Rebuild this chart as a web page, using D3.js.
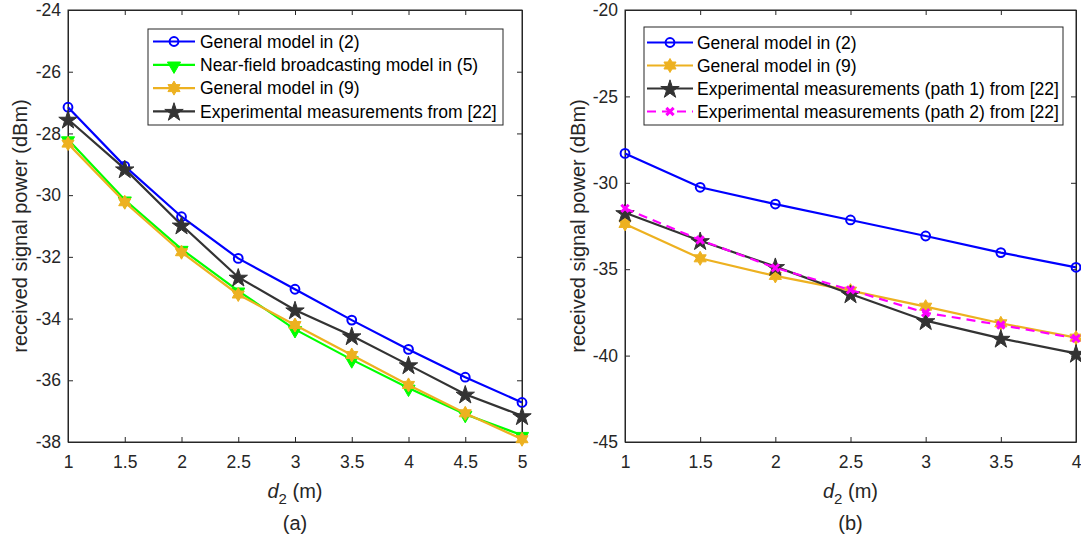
<!DOCTYPE html>
<html><head><meta charset="utf-8">
<script src="https://cdn.jsdelivr.net/npm/d3@7"></script>
<style>
body{margin:0;background:#fff;}
text{font-family:"Liberation Sans",Arial,Helvetica,sans-serif;}
</style></head>
<body>
<svg id="chart" width="1081" height="539"></svg>
<script>
// ---- data ----
const xA = [1, 1.5, 2, 2.5, 3, 3.5, 4, 4.5, 5];
const aGeneral2 = [-27.15, -29.06, -30.70, -32.05, -33.05, -34.05, -35.00, -35.90, -36.72];
const aNearField5 = [-28.20, -30.15, -31.75, -33.10, -34.35, -35.33, -36.25, -37.10, -37.78];
const aGeneral9 = [-28.33, -30.23, -31.85, -33.22, -34.21, -35.18, -36.15, -37.07, -37.91];
const aExperimental = [-27.54, -29.15, -30.97, -32.66, -33.72, -34.56, -35.50, -36.45, -37.15];
const xATicks = [1, 1.5, 2, 2.5, 3, 3.5, 4, 4.5, 5];
const yATicks = [-24, -26, -28, -30, -32, -34, -36, -38];

const xB = [1, 1.5, 2, 2.5, 3, 3.5, 4];
const bGeneral2 = [-28.30, -30.26, -31.23, -32.15, -33.08, -34.04, -34.89];
const bGeneral9 = [-32.38, -34.37, -35.39, -36.24, -37.17, -38.13, -38.96];
const bPath1 = [-31.73, -33.35, -34.85, -36.43, -37.98, -39.00, -39.87];
const bPath2 = [-31.48, -33.31, -34.92, -36.20, -37.52, -38.23, -39.00];
const xBTicks = [1, 1.5, 2, 2.5, 3, 3.5, 4];
const yBTicks = [-20, -25, -30, -35, -40, -45];

const labelsA = ["General model in (2)", "Near-field broadcasting model in (5)", "General model in (9)", "Experimental measurements from [22]"];
const labelsB = ["General model in (2)", "General model in (9)", "Experimental measurements (path 1) from [22]", "Experimental measurements (path 2) from [22]"];

const C = {blue:"#0000ff", green:"#00ff00", orange:"#edb120", black:"#333333", magenta:"#ff00ff"};
const axisColor = "#262626";
const FS_TICK = 17.5, FS_LEG = 17.5, FS_LAB = 20;

const svg = d3.select("#chart");

function hexagramPath(R){
  const r = R*0.577;
  const pts=[];
  for(let i=0;i<12;i++){
    const ang = -Math.PI/2 + i*Math.PI/6;
    const rr = i%2===0?R:r;
    pts.push([rr*Math.cos(ang), rr*Math.sin(ang)]);
  }
  return "M"+pts.map(p=>p[0].toFixed(2)+","+p[1].toFixed(2)).join("L")+"Z";
}
function drawMarker(g, type, color, x, y){
  if(type==="circle"){
    g.append("circle").attr("cx",x).attr("cy",y).attr("r",4.4)
      .attr("fill","none").attr("stroke",color).attr("stroke-width",2);
  } else if(type==="tri"){
    g.append("path").attr("d", d3.symbol(d3.symbolTriangle, 75)())
      .attr("transform",`translate(${x},${y+1}) rotate(180)`)
      .attr("fill",color).attr("stroke",color).attr("stroke-width",1);
  } else if(type==="hex"){
    g.append("path").attr("d", hexagramPath(7))
      .attr("transform",`translate(${x},${y})`)
      .attr("fill",color).attr("stroke",color).attr("stroke-width",1);
  } else if(type==="star"){
    g.append("path").attr("d", d3.symbol(d3.symbolStar, 105)())
      .attr("transform",`translate(${x},${y+1})`)
      .attr("fill",color).attr("stroke",color).attr("stroke-width",1);
  } else if(type==="x"){
    g.append("path").attr("d", d3.symbol(d3.symbolX, 36)())
      .attr("transform",`translate(${x},${y})`)
      .attr("fill","none").attr("stroke",color).attr("stroke-width",3);
  }
}

function panel(cfg){
  const {x0,x1,y0,y1,xDomain,yDomain,xTicks,yTicks,series,labels,legend,ylabelX,caption} = cfg;
  const xs = d3.scaleLinear().domain(xDomain).range([x0,x1]);
  const ys = d3.scaleLinear().domain(yDomain).range([y1,y0]);
  const g = svg.append("g");

  g.append("rect").attr("x",x0).attr("y",y0).attr("width",x1-x0).attr("height",y1-y0)
    .attr("fill","#fff").attr("stroke",axisColor).attr("stroke-width",1);

  const tl = 5;
  const fmt = d => String(d);
  const bx = g.append("g").attr("transform",`translate(0,${y1})`)
    .call(d3.axisBottom(xs).tickValues(xTicks).tickSizeInner(-tl).tickSizeOuter(0).tickPadding(14).tickFormat(fmt));
  const tx = g.append("g").attr("transform",`translate(0,${y0})`)
    .call(d3.axisTop(xs).tickValues(xTicks).tickSizeInner(-tl).tickSizeOuter(0).tickFormat(""));
  const ly = g.append("g").attr("transform",`translate(${x0},0)`)
    .call(d3.axisLeft(ys).tickValues(yTicks).tickSizeInner(-tl).tickSizeOuter(0).tickPadding(7).tickFormat(fmt));
  const ry = g.append("g").attr("transform",`translate(${x1},0)`)
    .call(d3.axisRight(ys).tickValues(yTicks).tickSizeInner(-tl).tickSizeOuter(0).tickFormat(""));
  [bx,tx,ly,ry].forEach(a=>{
    a.select(".domain").attr("stroke",axisColor);
    a.selectAll(".tick line").attr("stroke",axisColor);
    a.selectAll(".tick text").attr("fill",axisColor).style("font-size",FS_TICK+"px")
      .style("font-family",'"Liberation Sans",Arial,sans-serif');
  });

  series.forEach(s=>{
    const line = d3.line().x((d,i)=>xs(s.x[i])).y(d=>ys(d));
    g.append("path").datum(s.y).attr("d",line).attr("fill","none")
      .attr("stroke",s.color).attr("stroke-width",2.2)
      .attr("stroke-dasharray",s.dash||null);
    const mg = g.append("g");
    s.y.forEach((v,i)=>drawMarker(mg,s.marker,s.color,xs(s.x[i]),ys(v)));
  });

  const lg = g.append("g");
  lg.append("rect").attr("x",legend.x).attr("y",legend.y).attr("width",legend.w).attr("height",legend.h)
    .attr("fill","#fff").attr("stroke",axisColor).attr("stroke-width",1);
  series.forEach((s,i)=>{
    const cy = legend.y + legend.first + i*legend.step;
    const lx0 = legend.x + legend.lineStart, lx1 = legend.x + legend.lineEnd;
    lg.append("line").attr("x1",lx0).attr("x2",lx1).attr("y1",cy).attr("y2",cy)
      .attr("stroke",s.color).attr("stroke-width",2.2).attr("stroke-dasharray",s.dash||null);
    drawMarker(lg,s.marker,s.color,(lx0+lx1)/2,cy);
    lg.append("text").attr("x",legend.x+legend.textStart).attr("y",cy).attr("dy","0.35em")
      .attr("fill","#000").style("font-size",FS_LEG+"px").text(labels[i]);
  });

  g.append("text").attr("transform",`translate(${ylabelX},${(y0+y1)/2}) rotate(-90)`)
    .attr("text-anchor","middle").attr("fill",axisColor).style("font-size",FS_LAB+"px")
    .text("received signal power (dBm)");
  const xl = g.append("text").attr("x",(x0+x1)/2).attr("y",y1+56)
    .attr("text-anchor","middle").attr("fill",axisColor).style("font-size",FS_LAB+"px");
  xl.append("tspan").style("font-style","italic").text("d");
  xl.append("tspan").attr("dy",6).style("font-size","15px").text("2");
  xl.append("tspan").attr("dy",-6).text(" (m)");
  g.append("text").attr("x",(x0+x1)/2).attr("y",y1+88)
    .attr("text-anchor","middle").attr("fill",axisColor).style("font-size",FS_LAB+"px").text(caption);
}

panel({
  x0:68, x1:522, y0:10, y1:442,
  xDomain:[1,5], yDomain:[-38,-24], xTicks:xATicks, yTicks:yATicks,
  series:[
    {x:xA, y:aGeneral2, color:C.blue, marker:"circle"},
    {x:xA, y:aNearField5, color:C.green, marker:"tri"},
    {x:xA, y:aGeneral9, color:C.orange, marker:"hex"},
    {x:xA, y:aExperimental, color:C.black, marker:"star"}
  ],
  labels:labelsA,
  legend:{x:148, y:29, w:355, h:96, first:12.5, step:23.3, lineStart:5, lineEnd:47, textStart:52},
  ylabelX:27, caption:"(a)"
});

panel({
  x0:625, x1:1076, y0:10, y1:442,
  xDomain:[1,4], yDomain:[-45,-20], xTicks:xBTicks, yTicks:yBTicks,
  series:[
    {x:xB, y:bGeneral2, color:C.blue, marker:"circle"},
    {x:xB, y:bGeneral9, color:C.orange, marker:"hex"},
    {x:xB, y:bPath1, color:C.black, marker:"star"},
    {x:xB, y:bPath2, color:C.magenta, marker:"x", dash:"9,6"}
  ],
  labels:labelsB,
  legend:{x:644, y:27, w:419, h:98, first:15.5, step:23, lineStart:3, lineEnd:49, textStart:53},
  ylabelX:585, caption:"(b)"
});
</script>
</body></html>
